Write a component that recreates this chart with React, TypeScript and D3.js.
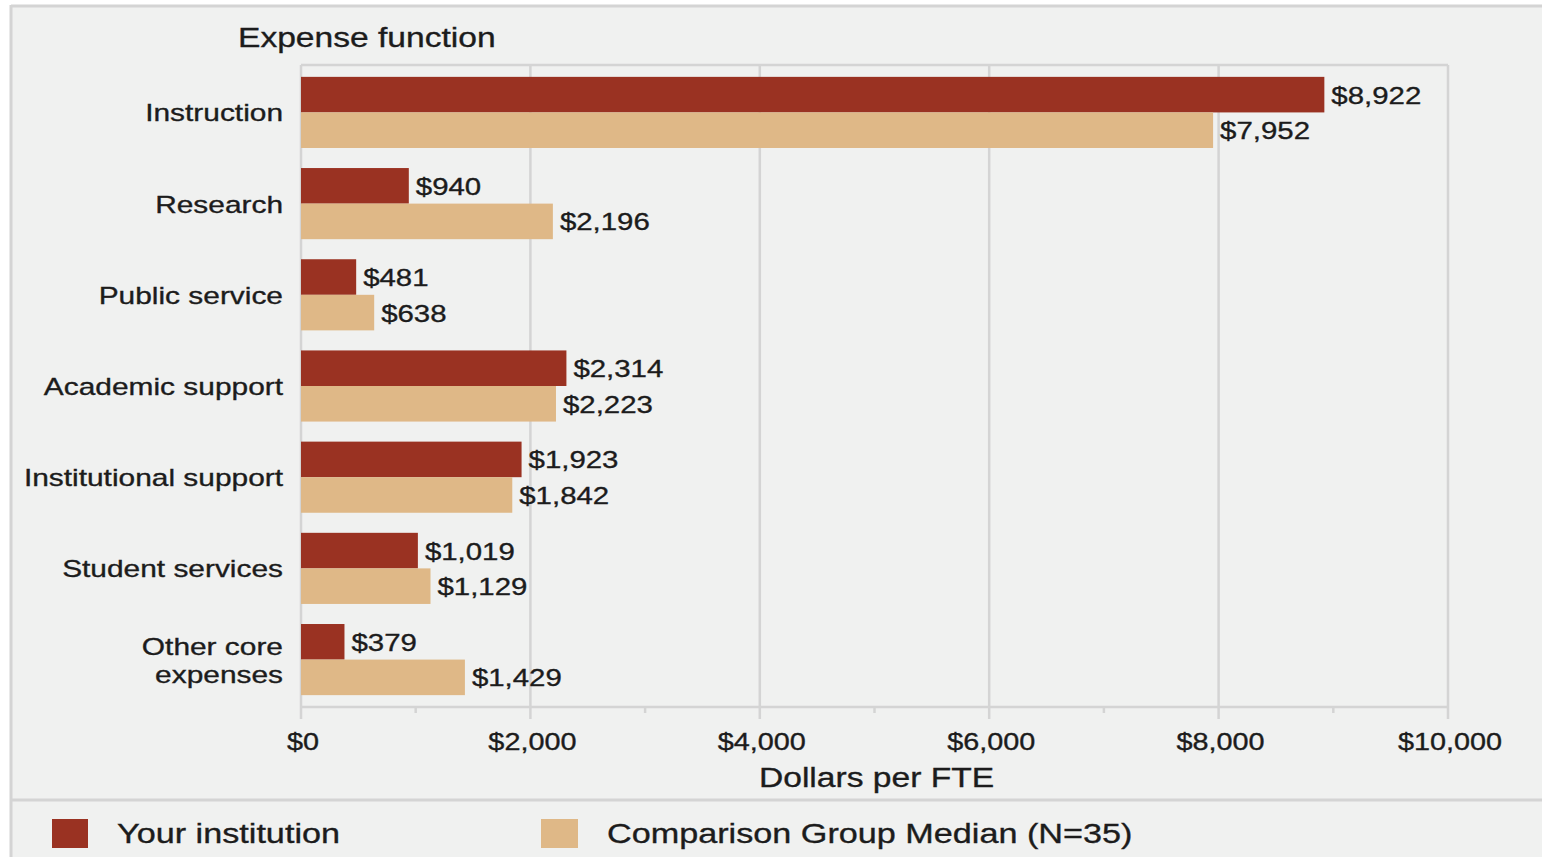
import React from 'react';
import * as d3 from 'd3';

const categories = ['Instruction', 'Research', 'Public service', 'Academic support', 'Institutional support', 'Student services', 'Other core expenses'];
const categoryLines = [['Instruction'], ['Research'], ['Public service'], ['Academic support'], ['Institutional support'], ['Student services'], ['Other core', 'expenses']];
const yourInstitution = [8922, 940, 481, 2314, 1923, 1019, 379];
const comparisonMedian = [7952, 2196, 638, 2223, 1842, 1129, 1429];
const xTicks = [0, 2000, 4000, 6000, 8000, 10000];
const seriesNames = ['Your institution', 'Comparison Group Median (N=35)'];

const W = 1542;
const H = 857;
const SX = 1.2; // the source text is stretched horizontally
const RED = '#9a3222';
const TAN = '#dfb887';
const GRID = '#d4d4d4';
const INK = '#1c1c1c';
const BG = '#f0f1f0';
const FONT = '"Liberation Sans", Arial, sans-serif';

const plot = {left: 301, right: 1448, top: 65, bottom: 707};

function Txt({x, y, size, anchor = 'start', sx = SX, children}: any) {
    return (
        <text transform={`translate(${x},${y}) scale(${sx},1)`} textAnchor={anchor} fontSize={size} fill={INK}
            stroke={INK} strokeWidth={0.35} fontFamily={FONT}>
            {children}
        </text>
    );
}

export default function App() {
    const xScale = d3.scaleLinear().domain([0, 10000]).range([plot.left, plot.right]);
    const yScale = d3.scaleBand<string>().domain(categories).range([plot.top, plot.bottom]).paddingInner(0.22).paddingOuter(0.13);
    const sub = d3.scaleBand<string>().domain(['your', 'comp']).range([0, yScale.bandwidth()]);
    const fmt = d3.format('$,');
    const minorTicks = xScale.ticks(10).filter(t => !xTicks.includes(t));

    return (
        <svg width={W} height={H} style={{position: 'absolute', left: 0, top: 0, display: 'block'}}>
            <rect x={0} y={0} width={W} height={H} fill="#ffffff" />
            <rect x={10} y={5} width={W} height={H} fill={BG} />
            {/* outer frame */}
            <line x1={11} x2={W} y1={6} y2={6} stroke={GRID} strokeWidth={3} />
            <line x1={11} x2={11} y1={5} y2={H} stroke={GRID} strokeWidth={3} />
            <line x1={10} x2={W} y1={800} y2={800} stroke={GRID} strokeWidth={3} />

            {/* plot frame + grid */}
            <line x1={plot.left} x2={plot.right} y1={plot.top} y2={plot.top} stroke={GRID} strokeWidth={2.5} />
            {xTicks.map(t => (
                <line key={t} x1={xScale(t)} x2={xScale(t)} y1={plot.top} y2={plot.bottom + 12} stroke={GRID} strokeWidth={2.5} />
            ))}
            {minorTicks.map(t => (
                <line key={t} x1={xScale(t)} x2={xScale(t)} y1={plot.bottom} y2={plot.bottom + 6} stroke={GRID} strokeWidth={2.5} />
            ))}
            <line x1={plot.left} x2={plot.right} y1={plot.bottom} y2={plot.bottom} stroke={GRID} strokeWidth={2.5} />

            <Txt x={238} y={47} size={28}>Expense function</Txt>

            {categories.map((c, i) => {
                const y0 = yScale(c) as number;
                const yr = y0 + (sub('your') as number);
                const yc = y0 + (sub('comp') as number);
                const bh = sub.bandwidth();
                const mid = y0 + yScale.bandwidth() / 2;
                const lines = categoryLines[i];
                return (
                    <g key={c}>
                        <rect x={xScale(0)} y={yr} width={xScale(yourInstitution[i]) - xScale(0)} height={bh} fill={RED} />
                        <rect x={xScale(0)} y={yc} width={xScale(comparisonMedian[i]) - xScale(0)} height={bh} fill={TAN} />
                        <Txt x={xScale(yourInstitution[i]) + 7} y={yr + bh / 2 + 9} size={24.5}>{fmt(yourInstitution[i])}</Txt>
                        <Txt x={xScale(comparisonMedian[i]) + 7} y={yc + bh / 2 + 9} size={24.5}>{fmt(comparisonMedian[i])}</Txt>
                        {lines.map((l, j) => (
                            <Txt key={l} x={283} y={mid + 9 + (j - (lines.length - 1) / 2) * 28} size={24.7} sx={1.21} anchor="end">{l}</Txt>
                        ))}
                    </g>
                );
            })}

            {xTicks.map(t => (
                <Txt key={t} x={xScale(t) + 2} y={750} size={24} anchor="middle">{fmt(t)}</Txt>
            ))}
            <Txt x={(plot.left + plot.right) / 2 + 2} y={787} size={28} anchor="middle">Dollars per FTE</Txt>

            {/* legend */}
            <rect x={52} y={819} width={36} height={29} fill={RED} />
            <Txt x={117} y={843} size={28.5}>{seriesNames[0]}</Txt>
            <rect x={541} y={819} width={37} height={29} fill={TAN} />
            <Txt x={607} y={843} size={28.5}>{seriesNames[1]}</Txt>
        </svg>
    );
}
